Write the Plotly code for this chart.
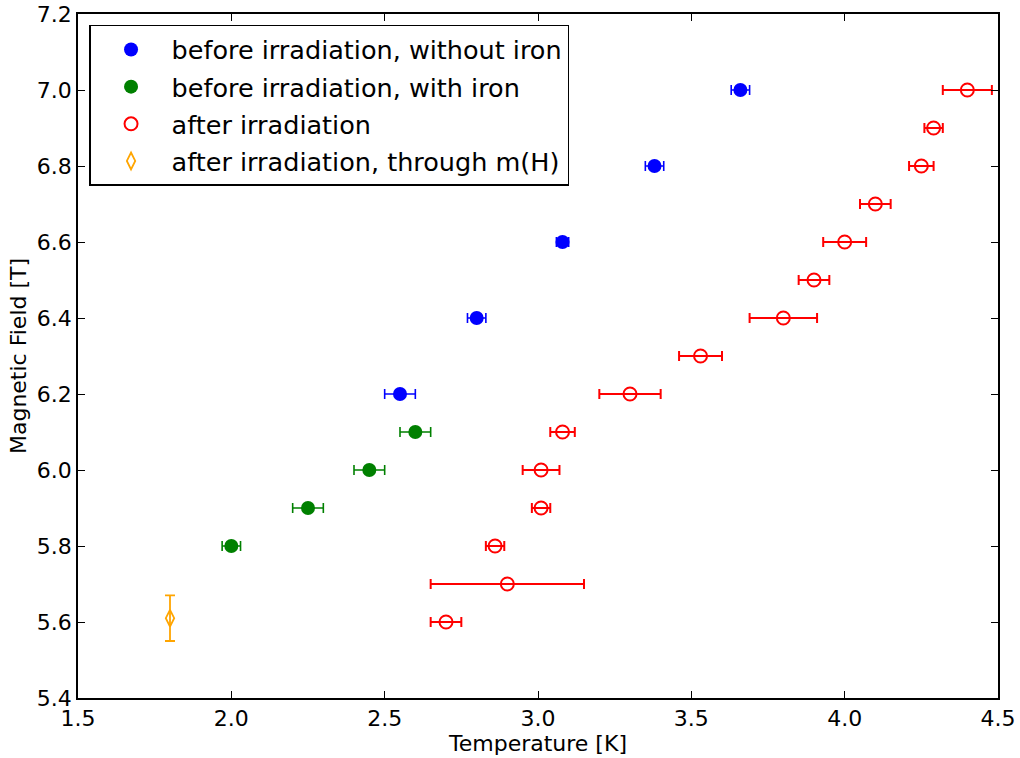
import plotly.graph_objects as go

# before irradiation, without iron
blue_T = [2.55, 2.80, 3.08, 3.38, 3.66]
blue_H = [6.2, 6.4, 6.6, 6.8, 7.0]
blue_dT = [0.05, 0.03, 0.02, 0.03, 0.03]

# before irradiation, with iron
green_T = [2.00, 2.25, 2.45, 2.60]
green_H = [5.8, 5.9, 6.0, 6.1]
green_dT = [0.03, 0.05, 0.05, 0.05]

# after irradiation
red_T = [2.70, 2.90, 2.86, 3.01, 3.01, 3.08, 3.30, 3.53, 3.80, 3.90, 4.00, 4.10, 4.25, 4.29, 4.40]
red_H = [5.6, 5.7, 5.8, 5.9, 6.0, 6.1, 6.2, 6.3, 6.4, 6.5, 6.6, 6.7, 6.8, 6.9, 7.0]
red_dT = [0.05, 0.25, 0.03, 0.03, 0.06, 0.04, 0.10, 0.07, 0.11, 0.05, 0.07, 0.05, 0.04, 0.03, 0.08]

# after irradiation, through m(H)
orange_T = [1.80]
orange_H = [5.61]
orange_dH = [0.06]

x_ticks = [1.5, 2.0, 2.5, 3.0, 3.5, 4.0, 4.5]
y_ticks = [5.4, 5.6, 5.8, 6.0, 6.2, 6.4, 6.6, 6.8, 7.0, 7.2]

fig = go.Figure()

fig.add_trace(go.Scatter(
    x=blue_T, y=blue_H, mode="markers", name="before irradiation, without iron",
    legendgroup="a",
    marker=dict(symbol="circle", size=14, color="#0000FF", line=dict(width=0)),
    error_x=dict(type="data", array=blue_dT, color="#0000FF", thickness=1.6, width=5),
))
fig.add_trace(go.Scatter(
    x=green_T, y=green_H, mode="markers", name="before irradiation, with iron",
    legendgroup="b",
    marker=dict(symbol="circle", size=14, color="#008000", line=dict(width=0)),
    error_x=dict(type="data", array=green_dT, color="#008000", thickness=1.6, width=5),
))
fig.add_trace(go.Scatter(
    x=red_T, y=red_H, mode="markers", name="after irradiation",
    legendgroup="c",
    marker=dict(symbol="circle-open", size=13, color="#FF0000", line=dict(width=2, color="#FF0000")),
    error_x=dict(type="data", array=red_dT, color="#FF0000", thickness=2, width=5),
))
fig.add_trace(go.Scatter(
    x=orange_T, y=orange_H, mode="markers", name="after irradiation, through m(H)",
    legendgroup="d",
    marker=dict(symbol="diamond-tall-open", size=12, color="#FFA500", line=dict(width=1.8, color="#FFA500")),
    error_y=dict(type="data", array=orange_dH, color="#FFA500", thickness=1.8, width=5),
))

axis_common = dict(
    showgrid=False, zeroline=False, showline=True, linecolor="black", linewidth=1.5,
    mirror="ticks", ticks="inside", ticklen=7, tickwidth=1, tickcolor="black",
    tickfont=dict(family="DejaVu Sans", size=22, color="black"),
    automargin=False, ticklabeloverflow="allow",
)

fig.update_xaxes(
    range=[1.5, 4.5], tickvals=x_ticks, tickformat=".1f",
    title=dict(text="Temperature [K]", font=dict(family="DejaVu Sans", size=22, color="black"), standoff=4),
    **axis_common,
)
fig.update_yaxes(
    range=[5.4, 7.2], tickvals=y_ticks, tickformat=".1f",
    title=dict(text="Magnetic Field [T]", font=dict(family="DejaVu Sans", size=22, color="black"), standoff=4),
    **axis_common,
)

fig.update_layout(
    width=1020, height=758,
    margin=dict(l=78, r=22, t=14, b=60),
    paper_bgcolor="white", plot_bgcolor="white",
    font=dict(family="DejaVu Sans", color="black"),
    showlegend=True,
    legend=dict(
        x=0.012, y=0.984, xanchor="left", yanchor="top",
        bgcolor="white", bordercolor="black", borderwidth=1.5,
        font=dict(family="DejaVu Sans", size=25.5, color="black"),
        itemwidth=71, tracegroupgap=1,
    ),
)

# remove the default page margin so the figure sits at the window's top-left corner
fig.write_html(
    "out.html",
    config={"displayModeBar": False},
    post_script="document.body.style.margin='0';document.body.style.overflow='hidden';",
)
